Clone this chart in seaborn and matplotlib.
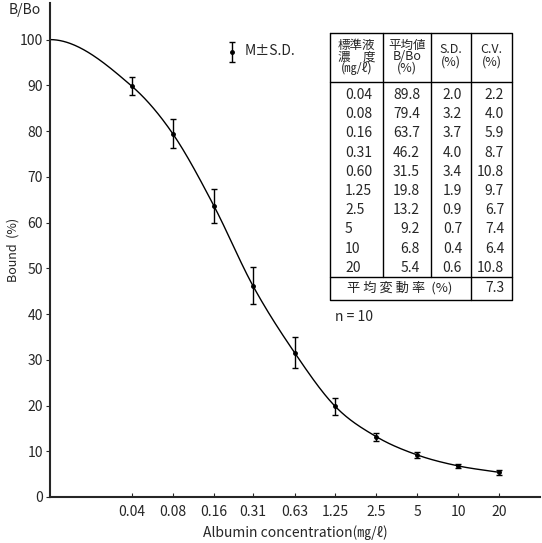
import numpy as np
import matplotlib
matplotlib.use("Agg")
import matplotlib.pyplot as plt
import seaborn as sns

conc = [0.04, 0.08, 0.16, 0.31, 0.63, 1.25, 2.5, 5, 10, 20]
conc_labels = ["0.04", "0.08", "0.16", "0.31", "0.60", "1.25", "2.5", "5", "10", "20"]
tick_labels = ["0.04", "0.08", "0.16", "0.31", "0.63", "1.25", "2.5", "5", "10", "20"]
mean_bbo = [89.8, 79.4, 63.7, 46.2, 31.5, 19.8, 13.2, 9.2, 6.8, 5.4]
sd = [2.0, 3.2, 3.7, 4.0, 3.4, 1.9, 0.9, 0.7, 0.4, 0.6]
cv = [2.2, 4.0, 5.9, 8.7, 10.8, 9.7, 6.7, 7.4, 6.4, 10.8]
mean_cv = 7.3
zero_x, zero_y = 0.01, 100.0   # punkt startowy krzywej (B0)

sns.set_style("ticks")
plt.rcParams['font.family'] = ['Noto Sans CJK JP', 'DejaVu Sans']
plt.rcParams['axes.unicode_minus'] = False

fig = plt.figure(figsize=(5.42, 5.43), dpi=100)
ax = fig.add_axes([50/542, 46/543, 490/542, 494/543])


# gladka krzywa - monotoniczny Hermite w log(x)
def hermite_curve(xs, ys, n=400):
    lx = np.log10(xs)
    ys = np.asarray(ys, float)
    h = np.diff(lx)
    d = np.diff(ys) / h
    m = np.zeros_like(ys)
    m[1:-1] = (d[:-1] + d[1:]) / 2
    m[0] = 0.0
    m[-1] = d[-1]
    for i in range(len(d)):
        if d[i] == 0:
            m[i] = m[i+1] = 0
        else:
            a, b = m[i] / d[i], m[i+1] / d[i]
            s = a*a + b*b
            if s > 9:
                t = 3 / np.sqrt(s)
                m[i], m[i+1] = t*a*d[i], t*b*d[i]
    xx = np.linspace(lx[0], lx[-1], n)
    idx = np.clip(np.searchsorted(lx, xx) - 1, 0, len(h) - 1)
    t = (xx - lx[idx]) / h[idx]
    h00 = 2*t**3 - 3*t**2 + 1
    h10 = t**3 - 2*t**2 + t
    h01 = -2*t**3 + 3*t**2
    h11 = t**3 - t**2
    yy = h00*ys[idx] + h10*h[idx]*m[idx] + h01*ys[idx+1] + h11*h[idx]*m[idx+1]
    return 10**xx, yy


cx, cy = hermite_curve([zero_x] + conc, [zero_y] + mean_bbo)
sns.lineplot(x=cx, y=cy, ax=ax, color="black", linewidth=1.0)
ax.errorbar(conc, mean_bbo, yerr=sd, fmt="o", color="black", markersize=2.5,
            elinewidth=1.0, capsize=2.5, capthick=1.0)

ax.set_xscale("log")
ax.set_xlim(0.01, 40)
ax.set_ylim(0, 108)
ax.set_xticks(conc)
ax.set_xticklabels(tick_labels)
ax.xaxis.set_minor_locator(matplotlib.ticker.NullLocator())
ax.set_yticks(range(0, 101, 10))
ax.tick_params(axis="x", direction="in", length=3, labelsize=10, pad=6)
ax.tick_params(axis="y", direction="out", length=3, labelsize=10, pad=2)
sns.despine(ax=ax)
for s in ["left", "bottom"]:
    ax.spines[s].set_linewidth(1.5)
ax.set_xlabel("Albumin concentration(㎎/ℓ)", fontsize=10, labelpad=4)
ax.set_ylabel("Bound  (%)", fontsize=9)
ax.yaxis.set_label_coords(-0.062, 0.5)
ax.text(-0.085, 0.985, "B/Bo", transform=ax.transAxes, fontsize=10,
        ha="left", va="center")

# warstwa do tabeli (wspolrzedne w pikselach)
ov = fig.add_axes([0, 0, 1, 1])
ov.set_xlim(0, 542)
ov.set_ylim(543, 0)
ov.axis("off")

# legenda M±S.D.
ov.errorbar([232], [52], yerr=[10], fmt="o", color="black", markersize=2.5,
            elinewidth=1.0, capsize=2.5, capthick=1.0)
ov.text(245, 51, "M±S.D.", fontsize=10, ha="left", va="center")

# tabela
L, c1, c2, c3, R = 330, 383, 431, 471, 512
top, hdr, body_end, bot = 33, 82, 277, 300
lw = 1.0
ov.plot([L, R, R, L, L], [top, top, bot, bot, top], color="black", lw=lw)
ov.plot([L, R], [hdr, hdr], color="black", lw=lw)
ov.plot([L, R], [body_end, body_end], color="black", lw=lw)
for cxl in [c1, c2]:
    ov.plot([cxl, cxl], [top, body_end], color="black", lw=lw)
ov.plot([c3, c3], [top, bot], color="black", lw=lw)

hfs = 9
ov.text((L + c1) / 2, 57, "標準液\n濃　度\n(㎎/ℓ)", fontsize=hfs, ha="center",
        va="center", linespacing=0.85)
ov.text((c1 + c2) / 2, 57, "平均値\nB/Bo\n(%)", fontsize=hfs, ha="center",
        va="center", linespacing=0.85)
ov.text((c2 + c3) / 2, 56, "S.D.\n(%)", fontsize=hfs, ha="center",
        va="center", linespacing=1.0)
ov.text((c3 + R) / 2, 56, "C.V.\n(%)", fontsize=hfs, ha="center",
        va="center", linespacing=1.0)

row0, step = 95, 19.2
for i in range(len(conc_labels)):
    y = row0 + i * step
    ov.text(345, y, conc_labels[i], fontsize=10, ha="left", va="center")
    ov.text(420, y, f"{mean_bbo[i]:.1f}", fontsize=10, ha="right", va="center")
    ov.text(462, y, f"{sd[i]:.1f}", fontsize=10, ha="right", va="center")
    ov.text(504, y, f"{cv[i]:.1f}", fontsize=10, ha="right", va="center")
ov.text(400, 288, "平 均 変 動 率  (%)", fontsize=9.5, ha="center", va="center")
ov.text(504, 288, f"{mean_cv:.1f}", fontsize=10, ha="right", va="center")

ov.text(335, 317, "n = 10", fontsize=10, ha="left", va="center")

fig.savefig("out.png", dpi=100)
